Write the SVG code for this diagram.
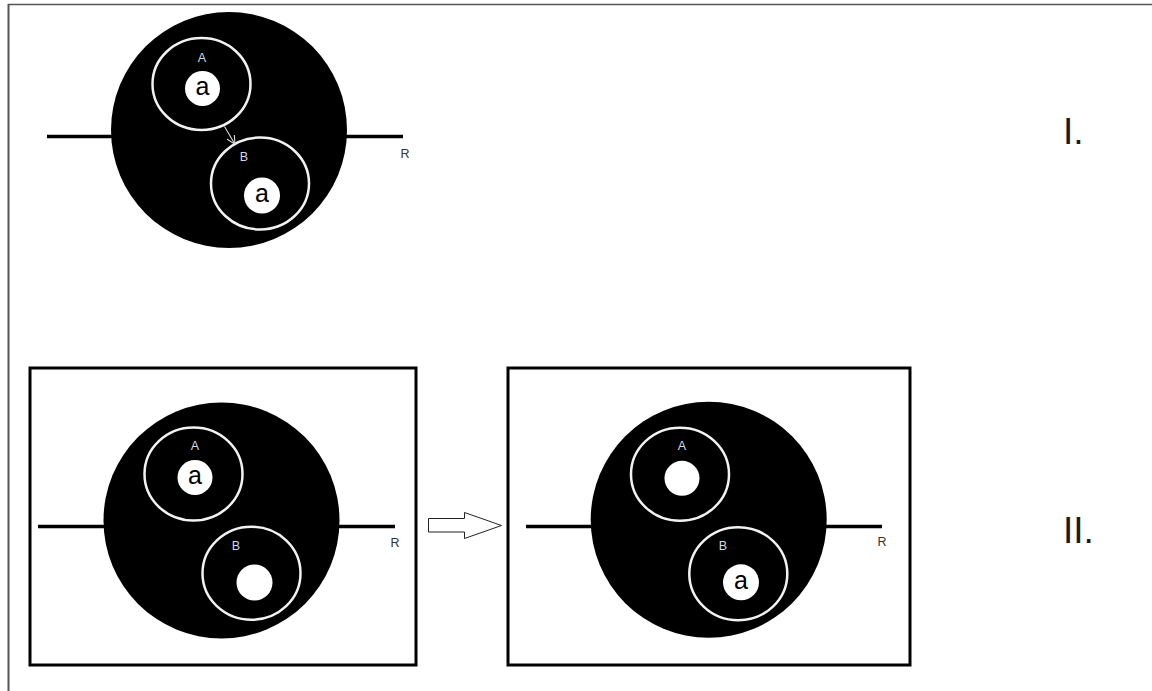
<svg xmlns="http://www.w3.org/2000/svg" width="1152" height="691" viewBox="0 0 1152 691">
<style>
.big{fill:#000}
.cell{fill:none;stroke:#f2f2f2;stroke-width:2.5}
.dot{fill:#fff}
.mem{stroke:#000;stroke-width:3.5;fill:none}
.frame{fill:none;stroke:#000;stroke-width:3}
.lbl{font-family:"Liberation Sans",Arial,sans-serif;font-size:12.5px;fill:#d4dae2;text-anchor:middle}
.a{font-family:"Liberation Sans",Arial,sans-serif;font-size:25px;fill:#000;text-anchor:middle}
.r{font-family:"Liberation Sans",Arial,sans-serif;font-size:12.5px;fill:#333;text-anchor:middle}
.roman{font-family:"Liberation Sans",Arial,sans-serif;font-size:37px;fill:#1a1a1a}
</style>
<defs>
<marker id="open" viewBox="0 0 10 10" refX="9" refY="5" markerWidth="9" markerHeight="9" orient="auto" markerUnits="userSpaceOnUse">
<path d="M0,0 L10,5 L0,10" fill="none" stroke="#e0e0e0" stroke-width="1.2"/>
</marker>
</defs>
<rect width="1152" height="691" fill="#fff"/>
<g id="border">
<line x1="8" y1="4.5" x2="1152" y2="4.5" stroke="#555" stroke-width="1.5"/>
<line x1="8.5" y1="4" x2="8.5" y2="691" stroke="#555" stroke-width="2"/>
</g>

<g id="panel-I">
<line class="mem" x1="47" y1="136.5" x2="403" y2="136.5"/>
<circle class="big" cx="229" cy="130" r="118"/>
<g id="I-A">
<ellipse class="cell" cx="201.5" cy="84" rx="49" ry="46"/>
<text class="lbl" x="202" y="62">A</text>
<circle class="dot" cx="202.5" cy="88.5" r="17.5"/>
<text class="a" x="202.5" y="95">a</text>
</g>
<g id="I-B">
<ellipse class="cell" cx="260" cy="183.5" rx="49" ry="46"/>
<text class="lbl" x="244" y="161">B</text>
<circle class="dot" cx="262" cy="195.5" r="18"/>
<text class="a" x="262" y="202">a</text>
</g>
<text class="r" x="405" y="158">R</text>
</g>

<g id="panel-II-left">
<rect class="frame" x="30" y="368" width="386" height="297"/>
<line class="mem" x1="38" y1="526.5" x2="395" y2="526.5"/>
<circle class="big" cx="221.5" cy="520.5" r="118"/>
<g id="IIL-A">
<ellipse class="cell" cx="193.5" cy="474" rx="49" ry="46.5"/>
<text class="lbl" x="195" y="450">A</text>
<circle class="dot" cx="195" cy="477.5" r="17.5"/>
<text class="a" x="195" y="484">a</text>
</g>
<g id="IIL-B">
<ellipse class="cell" cx="251.5" cy="573.3" rx="49" ry="46.5"/>
<text class="lbl" x="236" y="550">B</text>
<circle class="dot" cx="254.5" cy="582.5" r="18"/>
</g>
<text class="r" x="395" y="547">R</text>
</g>

<g id="panel-II-right">
<rect class="frame" x="508" y="368" width="402" height="297"/>
<line class="mem" x1="526" y1="526.5" x2="882" y2="526.5"/>
<circle class="big" cx="708.7" cy="519.7" r="118"/>
<g id="IIR-A">
<ellipse class="cell" cx="680" cy="474.3" rx="49" ry="46.5"/>
<text class="lbl" x="682" y="450">A</text>
<circle class="dot" cx="682" cy="478.3" r="17.5"/>
</g>
<g id="IIR-B">
<ellipse class="cell" cx="738.3" cy="573.7" rx="49" ry="46.5"/>
<text class="lbl" x="723" y="550">B</text>
<circle class="dot" cx="741" cy="582.3" r="18"/>
<text class="a" x="741" y="589">a</text>
</g>
<text class="r" x="882" y="546">R</text>
</g>

<g id="connectors">
<line x1="224.5" y1="126.5" x2="234.5" y2="143.5" stroke="#d8d8d8" stroke-width="1.1" marker-end="url(#open)"/>
<polygon points="428.5,518.5 464.5,518.5 464.5,512.5 501.5,525.5 464.5,538.5 464.5,532 428.5,532" fill="#fff" stroke="#222" stroke-width="1"/>
</g>

<g id="labels">
<text class="roman" x="1063" y="144">I.</text>
<text class="roman" x="1063" y="543">II.</text>
</g>
</svg>
